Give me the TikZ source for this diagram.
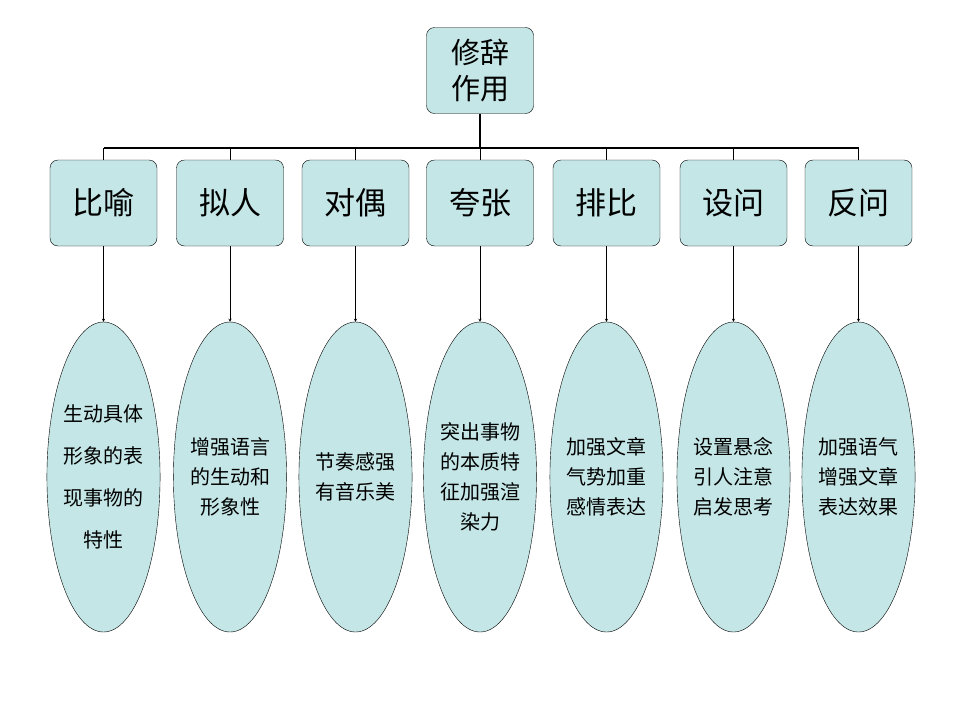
\documentclass[tikz,border=0pt]{standalone}
\usepackage{fontspec}
\newfontfamily\cjk{Noto Sans CJK SC}
\usetikzlibrary{shapes.geometric}
\definecolor{boxfill}{HTML}{C4E6E6}
\begin{document}
\begin{tikzpicture}[x=1pt,y=-1pt,>=stealth,
  head/.style={draw,rounded corners=8pt,fill=boxfill,minimum width=107pt,minimum height=86pt,font=\cjk\fontsize{29}{36}\selectfont,align=center,inner sep=0pt},
  kind/.style={draw,rounded corners=8pt,fill=boxfill,minimum width=107pt,minimum height=86pt,font=\cjk\fontsize{31}{34}\selectfont,inner sep=0pt},
  effect/.style={draw,ellipse,fill=boxfill,minimum width=108pt,minimum height=310pt,font=\cjk\fontsize{20}{30}\selectfont,align=center,inner sep=0pt}]
\useasboundingbox (0,0) rectangle (960,720);
\node[head] (top) at (480,70.5) {修辞\\作用};
\coordinate (bus) at (480,148);
\foreach \name/\x/\txt/\eff in {
  k1/103.5/比喻/{生动具体\\[12pt]形象的表\\[12pt]现事物的\\[12pt]特性},
  k2/230/拟人/{增强语言\\的生动和\\形象性},
  k3/355.5/对偶/{节奏感强\\有音乐美},
  k4/480/夸张/{突出事物\\的本质特\\征加强渲\\染力},
  k5/606.5/排比/{加强文章\\气势加重\\感情表达},
  k6/733.5/设问/{设置悬念\\引人注意\\启发思考},
  k7/858.5/反问/{加强语气\\增强文章\\表达效果}}{
  \node[kind] (\name) at (\x,203) {\txt};
  \node[effect] (e\name) at (\x,477) {\eff};
  \coordinate (j\name) at (\x,148);
  \draw[thick] (j\name) -- (\name.north);
  \draw[->] (\name.south) -- (e\name.north);
}
\draw[line width=2.2pt] (jk1) -- (jk7);
\draw[line width=2.2pt] (top.south) -- (bus);
\end{tikzpicture}
\end{document}
